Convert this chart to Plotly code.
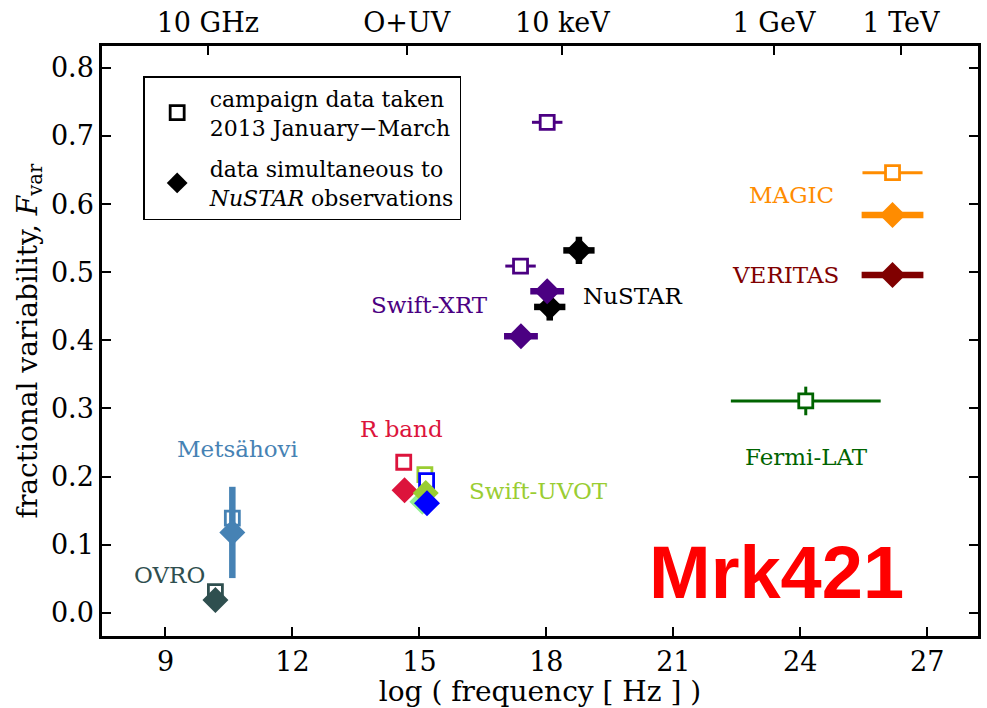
import plotly.graph_objects as go

# ---------------- data ----------------
# campaign data (open squares)
sq_name = ["OVRO", "Metsähovi", "R band", "Swift-UVOT", "Swift-UVOT", "Swift-XRT", "Swift-XRT", "Fermi-LAT", "MAGIC"]
sq_x = [10.18, 10.58, 14.63, 15.13, 15.17, 17.39, 18.02, 24.13, 26.18]
sq_y = [0.031, 0.139, 0.221, 0.203, 0.194, 0.509, 0.720, 0.311, 0.646]
sq_xerr = [0.0, 0.0, 0.0, 0.0, 0.0, 0.36, 0.36, 1.77, 0.71]
sq_yerr = [0.0, 0.0, 0.0, 0.0, 0.0, 0.0, 0.0, 0.021, 0.0]
sq_col = ["#2F4F4F", "#4682B4", "#DC143C", "#9ACD32", "#0000FF", "#4B0082", "#4B0082", "#006400", "#FF8C00"]

# data simultaneous to NuSTAR (filled diamonds)
dm_name = ["OVRO", "Metsähovi", "R band", "Swift-UVOT", "Swift-UVOT", "Swift-UVOT",
           "NuSTAR", "NuSTAR", "Swift-XRT", "Swift-XRT", "MAGIC", "VERITAS"]
dm_x = [10.18, 10.58, 14.65, 15.07, 15.15, 15.18, 18.08, 18.77, 17.40, 18.02, 26.18, 26.18]
dm_y = [0.019, 0.118, 0.180, 0.163, 0.176, 0.161, 0.449, 0.532, 0.406, 0.472, 0.584, 0.496]
dm_xerr = [0.0, 0.0, 0.0, 0.0, 0.0, 0.0, 0.37, 0.37, 0.40, 0.40, 0.73, 0.73]
dm_yerr = [0.0, 0.067, 0.0, 0.0, 0.0, 0.0, 0.02, 0.02, 0.0, 0.0, 0.0, 0.01]
dm_col = ["#2F4F4F", "#4682B4", "#DC143C", "#90EE90", "#9ACD32", "#0000FF",
          "#000000", "#000000", "#4B0082", "#4B0082", "#FF8C00", "#800000"]

# instrument labels
lab_text = ["Metsähovi", "OVRO", "R band", "Swift-UVOT", "Swift-XRT", "NuSTAR", "MAGIC", "VERITAS", "Fermi-LAT"]
lab_x = [10.70, 9.09, 14.58, 17.82, 15.24, 20.04, 23.80, 23.66, 24.15]
lab_y = [0.241, 0.056, 0.270, 0.179, 0.452, 0.465, 0.614, 0.496, 0.229]
lab_col = ["#4682B4", "#2F4F4F", "#DC143C", "#9ACD32", "#4B0082", "#000000", "#FF8C00", "#800000", "#006400"]

# axes ticks
x_ticks = [9, 12, 15, 18, 21, 24, 27]
y_ticks = [0.0, 0.1, 0.2, 0.3, 0.4, 0.5, 0.6, 0.7, 0.8]
top_vals = [10.0, 14.7, 18.38, 23.38, 26.38]
top_text = ["10 GHz", "O+UV", "10 keV", "1 GeV", "1 TeV"]

SERIF = "DejaVu Serif"

fig = go.Figure()

for i in range(len(sq_x)):
    fig.add_trace(go.Scatter(
        x=[sq_x[i]], y=[sq_y[i]], mode="markers", showlegend=False,
        marker=dict(symbol="square", size=14, color="white",
                    line=dict(color=sq_col[i], width=2.8)),
        error_x=dict(type="data", array=[sq_xerr[i]], visible=sq_xerr[i] > 0,
                     color=sq_col[i], thickness=3, width=0),
        error_y=dict(type="data", array=[sq_yerr[i]], visible=sq_yerr[i] > 0,
                     color=sq_col[i], thickness=3, width=0),
        name=sq_name[i]))

for i in range(len(dm_x)):
    fig.add_trace(go.Scatter(
        x=[dm_x[i]], y=[dm_y[i]], mode="markers", showlegend=False,
        marker=dict(symbol="diamond", size=20, color=dm_col[i],
                    line=dict(width=0)),
        error_x=dict(type="data", array=[dm_xerr[i]], visible=dm_xerr[i] > 0,
                     color=dm_col[i], thickness=6.5, width=0),
        error_y=dict(type="data", array=[dm_yerr[i]], visible=dm_yerr[i] > 0,
                     color=dm_col[i], thickness=6.5, width=0),
        name=dm_name[i]))

# legend entries
fig.add_trace(go.Scatter(
    x=[None], y=[None], mode="markers", legendgroup="campaign",
    marker=dict(symbol="square", size=14, color="white", line=dict(color="black", width=2.8)),
    name="campaign data taken<br>2013 January\u2212March"))
fig.add_trace(go.Scatter(
    x=[None], y=[None], mode="markers", legendgroup="nustar",
    marker=dict(symbol="diamond", size=22, color="black"),
    name="data simultaneous to<br><i>NuSTAR</i> observations"))

# top axis dummy trace
fig.add_trace(go.Scatter(x=[None], y=[None], xaxis="x2", showlegend=False))

for t, x, y, c in zip(lab_text, lab_x, lab_y, lab_col):
    fig.add_annotation(x=x, y=y, text=t, showarrow=False, xref="x", yref="y",
                       xanchor="center", yanchor="middle",
                       font=dict(family=SERIF, size=23, color=c))

fig.add_annotation(x=0.770, y=0.108, xref="paper", yref="paper", text="<b>Mrk421</b>",
                   showarrow=False, xanchor="center", yanchor="middle",
                   font=dict(family="Liberation Sans, Arial, sans-serif",
                             size=74, color="#FF0000"))

fig.update_layout(
    width=987, height=708,
    margin=dict(l=102, r=9, t=46, b=72),
    plot_bgcolor="white", paper_bgcolor="white",
    xaxis=dict(range=[7.5, 28.2], tickvals=x_ticks, ticks="inside", ticklen=9, tickwidth=2,
               tickcolor="black", showline=True, linecolor="black", linewidth=2.5,
               showgrid=False, zeroline=False, automargin=False,
               tickfont=dict(family=SERIF, size=27, color="black"),
               title=dict(text="log ( frequency [ Hz ] )", standoff=4,
                          font=dict(family=SERIF, size=28, color="black"))),
    xaxis2=dict(range=[7.5, 28.2], overlaying="x", side="top", anchor="y",
                tickvals=top_vals, ticktext=top_text, ticks="inside", ticklen=9, tickwidth=2,
                tickcolor="black", showline=True, linecolor="black", linewidth=2.5,
                showgrid=False, zeroline=False, automargin=False,
                tickfont=dict(family=SERIF, size=27, color="black")),
    yaxis=dict(range=[-0.034, 0.832], tickvals=y_ticks, tickformat=".1f", ticks="inside",
               ticklen=9, tickwidth=2, tickcolor="black", showline=True, linecolor="black",
               linewidth=2.5, mirror="ticks", showgrid=False, zeroline=False, automargin=False,
               tickfont=dict(family=SERIF, size=27, color="black"),
               title=dict(text="fractional variability, <i>F</i><sub>var</sub>", standoff=6,
                          font=dict(family=SERIF, size=28, color="black"))),
    legend=dict(x=0.047, y=0.949, xanchor="left", yanchor="top",
                bordercolor="black", borderwidth=1.5, bgcolor="white",
                font=dict(family=SERIF, size=22, color="black"),
                itemsizing="trace", itemwidth=55, valign="middle",
                traceorder="grouped", tracegroupgap=10),
)

fig.write_html("out.html")
